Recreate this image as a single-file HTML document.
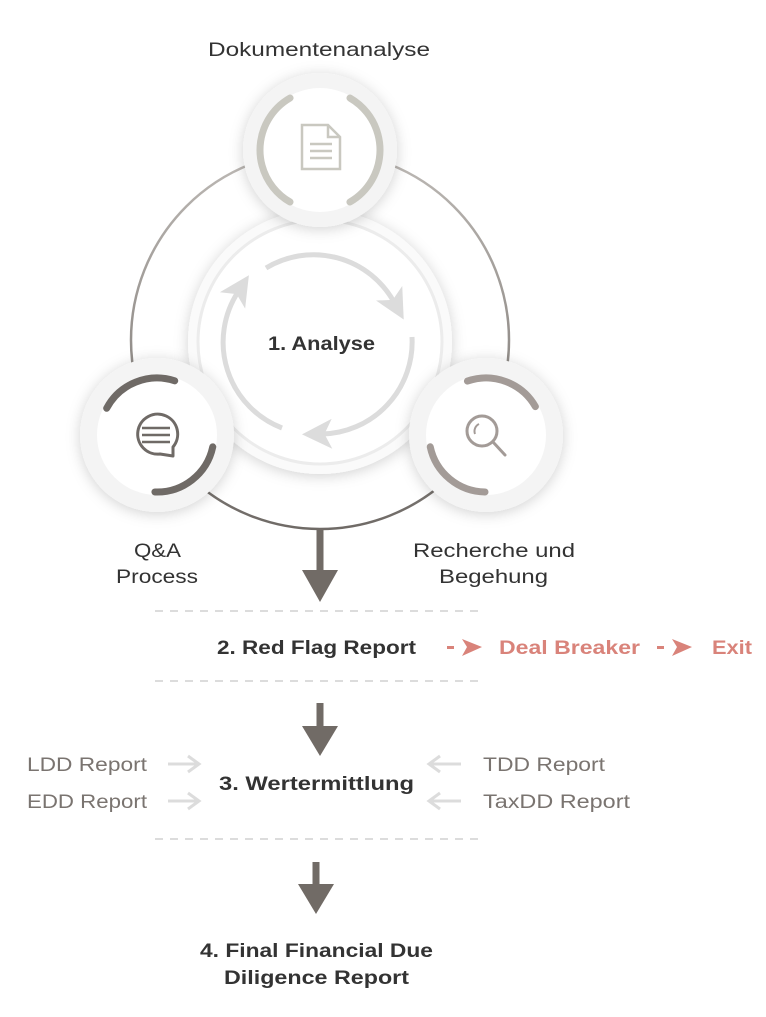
<!DOCTYPE html>
<html><head><meta charset="utf-8"><style>
html,body{margin:0;padding:0;background:#fff;}
body{width:766px;height:1017px;position:relative;overflow:hidden;font-family:"Liberation Sans",sans-serif;}
</style></head><body>
<svg width="766" height="1017" style="position:absolute;left:0;top:0" font-family="Liberation Sans, sans-serif">
<defs>
<filter id="sh" x="-50%" y="-50%" width="200%" height="200%"><feDropShadow dx="0" dy="2" stdDeviation="7" flood-color="#000" flood-opacity="0.18"/></filter>
<linearGradient id="rg" x1="0" y1="0" x2="0" y2="1"><stop offset="0" stop-color="#bdb9b5"/><stop offset="1" stop-color="#6f6a66"/></linearGradient>
<marker id="ah" markerWidth="6" markerHeight="6" refX="2" refY="3" orient="auto" markerUnits="strokeWidth"><path d="M0,0 L6,3 L0,6 L1.5,3 Z" fill="#dcdcdc"/></marker>
</defs>
<circle cx="320" cy="340" r="189" fill="none" stroke="url(#rg)" stroke-width="2.5"/>
<circle cx="320" cy="342" r="132" fill="#fafafa" filter="url(#sh)"/>
<circle cx="320" cy="342" r="122" fill="#fff" stroke="#ececec" stroke-width="3"/>
<g fill="none" stroke="#dcdcdc" stroke-width="5" marker-end="url(#ah)">
<path d="M266,268 A92,92 0 0 1 394,302"/>
<path d="M412,337 A92,92 0 0 1 322,434"/>
<path d="M282,428 A92,92 0 0 1 238,292"/>
</g>
<circle cx="320" cy="150" r="77" fill="#f4f4f4" filter="url(#sh)"/>
<circle cx="320" cy="150" r="62" fill="#fff"/>
<g fill="none" stroke="#c9c8c0" stroke-width="7" stroke-linecap="round">
<circle cx="320" cy="150" r="60" stroke-dasharray="125.7 251.3" transform="rotate(120 320 150)"/>
<circle cx="320" cy="150" r="60" stroke-dasharray="125.7 251.3" transform="rotate(-60 320 150)"/>
</g>
<g fill="none" stroke="#c9c8c0" stroke-width="2.5">
<path d="M302,125 L328,125 L340,137 L340,169 L302,169 Z"/>
<path d="M328,125 L328,137 L340,137"/>
<path d="M310,144 H332 M310,151 H332 M310,158 H332"/>
</g>
<circle cx="157" cy="435" r="77" fill="#f4f4f4" filter="url(#sh)"/>
<circle cx="157" cy="435" r="60" fill="#fff"/>
<g fill="none" stroke="#6f6a66" stroke-width="7" stroke-linecap="round">
<circle cx="157" cy="435" r="57" stroke-dasharray="79.6 278.5" transform="rotate(208 157 435)"/>
<circle cx="157" cy="435" r="57" stroke-dasharray="79.6 278.5" transform="rotate(12 157 435)"/>
</g>
<g fill="none" stroke="#6f6a66" stroke-width="3">
<path d="M173,456 L173,447 A20,20 0 1 0 160,454 Z" stroke-linejoin="round"/>
<path d="M142,428 H170 M142,435 H170 M142,442 H170" stroke-width="2.5"/>
</g>
<circle cx="486" cy="435" r="77" fill="#f4f4f4" filter="url(#sh)"/>
<circle cx="486" cy="435" r="60" fill="#fff"/>
<g fill="none" stroke="#a39b97" stroke-width="7" stroke-linecap="round">
<circle cx="486" cy="435" r="57" stroke-dasharray="78.6 279.5" transform="rotate(251 486 435)"/>
<circle cx="486" cy="435" r="57" stroke-dasharray="76.6 281.5" transform="rotate(91 486 435)"/>
</g>
<g fill="none" stroke="#a39b97" stroke-width="3">
<circle cx="482" cy="431" r="15"/>
<path d="M493,442 L505,455" stroke-linecap="round"/>
<path d="M475,434 A8,8 0 0 1 479,424" stroke-width="2"/>
</g>
<g fill="#716b66">
<rect x="316.5" y="529" width="7" height="48"/><polygon points="302,570 338,570 320,602"/>
<rect x="316.5" y="703" width="7" height="30"/><polygon points="302,726 338,726 320,756"/>
<rect x="312.5" y="862" width="7" height="30"/><polygon points="298,884 334,884 316,914"/>
</g>
<g stroke="#dcdcdc" stroke-width="2" stroke-dasharray="8 7">
<line x1="155" y1="611" x2="482" y2="611"/>
<line x1="155" y1="681" x2="482" y2="681"/>
<line x1="155" y1="839" x2="482" y2="839"/>
</g>
<g fill="#d9837a">
<rect x="447" y="646" width="7" height="3"/><polygon points="462,639 482,647 462,656 467,647"/>
<rect x="657" y="646" width="7" height="3"/><polygon points="672,639 692,647 672,656 677,647"/>
</g>
<g stroke="#dcdcdc" stroke-width="3" fill="none">
<path d="M168,764 H198 M188,756 L199,764 L188,772"/>
<path d="M168,801 H198 M188,793 L199,801 L188,809"/>
<path d="M461,764 H430 M440,756 L429,764 L440,772"/>
<path d="M461,801 H430 M440,793 L429,801 L440,809"/>
</g>
<g font-size="19" fill="#333" lengthAdjust="spacingAndGlyphs">
<text x="208" y="56" textLength="222" lengthAdjust="spacingAndGlyphs">Dokumentenanalyse</text>
<text x="134" y="557" textLength="47" lengthAdjust="spacingAndGlyphs">Q&amp;A</text>
<text x="116" y="583" textLength="82" lengthAdjust="spacingAndGlyphs">Process</text>
<text x="413" y="557" textLength="162" lengthAdjust="spacingAndGlyphs">Recherche und</text>
<text x="439" y="583" textLength="109" lengthAdjust="spacingAndGlyphs">Begehung</text>
</g>
<g font-size="19" font-weight="bold" fill="#333">
<text x="268" y="350" textLength="107" lengthAdjust="spacingAndGlyphs">1. Analyse</text>
<text x="217" y="654" textLength="199" lengthAdjust="spacingAndGlyphs">2. Red Flag Report</text>
<text x="219" y="790" textLength="195" lengthAdjust="spacingAndGlyphs">3. Wertermittlung</text>
<text x="200" y="957" textLength="233" lengthAdjust="spacingAndGlyphs">4. Final Financial Due</text>
<text x="224" y="984" textLength="185" lengthAdjust="spacingAndGlyphs">Diligence Report</text>
</g>
<g font-size="19" font-weight="bold" fill="#d9837a">
<text x="499" y="654" textLength="141" lengthAdjust="spacingAndGlyphs">Deal Breaker</text>
<text x="712" y="654" textLength="40" lengthAdjust="spacingAndGlyphs">Exit</text>
</g>
<g font-size="19" fill="#7a7470">
<text x="27" y="771" textLength="120" lengthAdjust="spacingAndGlyphs">LDD Report</text>
<text x="27" y="808" textLength="120" lengthAdjust="spacingAndGlyphs">EDD Report</text>
<text x="483" y="771" textLength="122" lengthAdjust="spacingAndGlyphs">TDD Report</text>
<text x="483" y="808" textLength="147" lengthAdjust="spacingAndGlyphs">TaxDD Report</text>
</g>
</svg>
</body></html>
